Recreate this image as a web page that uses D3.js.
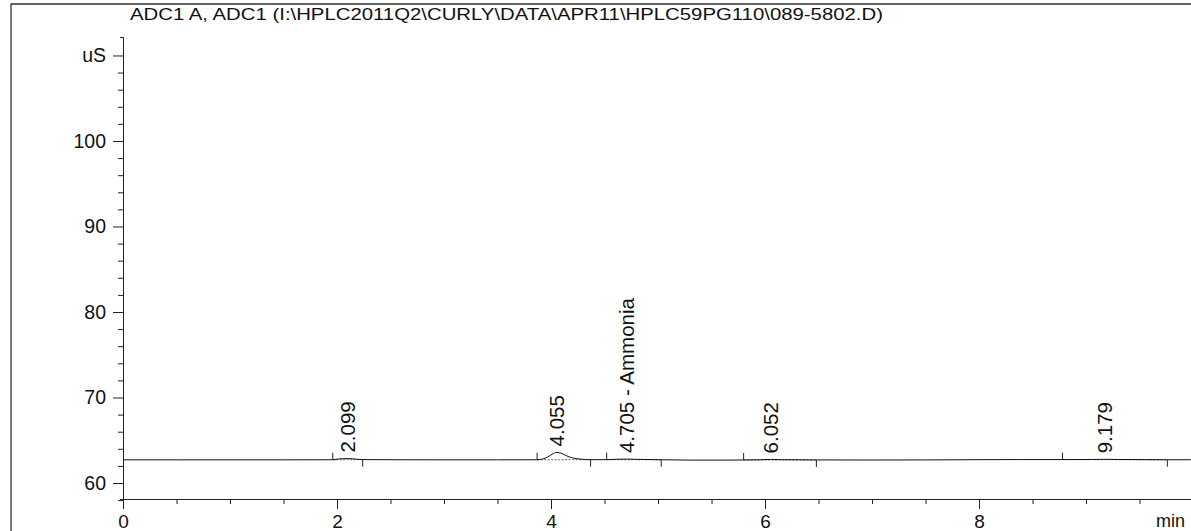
<!DOCTYPE html>
<html>
<head>
<meta charset="utf-8">
<script src="https://cdn.jsdelivr.net/npm/d3@7"></script>
<style>
  html, body { margin: 0; padding: 0; background: #fff; }
  svg { display: block; font-family: "Liberation Sans", Arial, sans-serif; }
</style>
</head>
<body>
<svg id="chart" width="1191" height="531"></svg>
<script>
// Detector trace (time in min, conductivity in uS)
const signalTime  = [0, 0.5, 1.0, 1.5, 1.96, 2.02, 2.099, 2.17, 2.24, 2.6, 3.0, 3.5, 3.87, 3.92, 3.97, 4.01, 4.055, 4.1, 4.15, 4.2, 4.27, 4.37, 4.52, 4.62, 4.705, 4.8, 5.03, 5.3, 5.6, 5.8, 5.95, 6.052, 6.15, 6.48, 7.0, 7.5, 8.0, 8.4, 8.78, 9.05, 9.179, 9.3, 9.76, 9.98];
const signalValue = [62.71, 62.71, 62.71, 62.71, 62.72, 62.82, 62.86, 62.80, 62.74, 62.72, 62.71, 62.71, 62.72, 62.80, 63.05, 63.36, 63.58, 63.46, 63.16, 62.94, 62.80, 62.73, 62.73, 62.78, 62.80, 62.77, 62.72, 62.68, 62.68, 62.69, 62.72, 62.76, 62.73, 62.70, 62.69, 62.70, 62.73, 62.74, 62.74, 62.75, 62.77, 62.75, 62.72, 62.72];

// Integrated peaks
const peakTime   = [2.099, 4.055, 4.705, 6.052, 9.179];
const peakName   = ["", "", "Ammonia", "", ""];
const peakApex   = [62.86, 63.58, 62.80, 62.76, 62.77];
const peakStart  = [1.96, 3.87, 4.52, 5.80, 8.78];
const peakEnd    = [2.24, 4.37, 5.03, 6.48, 9.76];
const peakBaseL  = [62.72, 62.72, 62.73, 62.69, 62.74];
const peakBaseR  = [62.74, 62.73, 62.72, 62.70, 62.72];

// Axis ticks
const yMajorTicks = [60, 70, 80, 90, 100, 110];
const yMinorTicks = [58, 62, 64, 66, 68, 72, 74, 76, 78, 82, 84, 86, 88, 92, 94, 96, 98, 102, 104, 106, 108];
const xMajorTicks = [0, 2, 4, 6, 8];
const xMinorTicks = [0.5, 1, 1.5, 2.5, 3, 3.5, 4.5, 5, 5.5, 6.5, 7, 7.5, 8.5, 9, 9.5];

const titleText = "ADC1 A, ADC1 (I:\\HPLC2011Q2\\CURLY\\DATA\\APR11\\HPLC59PG110\\089-5802.D)";
const yUnit = "uS";
const xUnit = "min";

const svg = d3.select("#chart");

const x = d3.scaleLinear().domain([0, 9.981]).range([123, 1191]);
const y = d3.scaleLinear().domain([58.13, 112.16]).range([499, 37]);

// Outer frame (top and left edges)
svg.append("path")
  .attr("d", "M11,531V4H1191")
  .attr("fill", "none")
  .attr("stroke", "#333")
  .attr("stroke-width", 1.3);

// Title
svg.append("text")
  .attr("x", 130).attr("y", 20)
  .attr("font-size", 17)
  .attr("textLength", 753)
  .attr("lengthAdjust", "spacingAndGlyphs")
  .attr("fill", "#111")
  .text(titleText);

// Y axis
const yAxisG = svg.append("g").attr("transform", "translate(123,0)");
yAxisG.call(d3.axisLeft(y).tickValues(yMinorTicks).tickSize(5).tickSizeOuter(3).tickFormat(""));
yAxisG.append("g").attr("class", "ymaj")
  .call(d3.axisLeft(y).tickValues(yMajorTicks).tickSize(10).tickSizeOuter(0).tickPadding(7)
  .tickFormat(d => d === 110 ? yUnit : d3.format("d")(d)))
  .call(g => g.select(".domain").remove());

// X axis
const xAxisG = svg.append("g").attr("transform", "translate(0,499)");
xAxisG.call(d3.axisBottom(x).tickValues(xMinorTicks).tickSize(5).tickSizeOuter(0).tickFormat(""));
xAxisG.append("g").attr("class", "xmaj")
  .call(d3.axisBottom(x).tickValues(xMajorTicks).tickSize(10).tickSizeOuter(0).tickPadding(6)
  .tickFormat(d3.format("d")))
  .call(g => g.select(".domain").remove());

svg.selectAll(".tick text").attr("fill", "#111")
  .attr("font-family", "'Liberation Sans', Arial, sans-serif");
svg.selectAll(".ymaj .tick text").attr("font-size", 19.5);
svg.selectAll(".xmaj .tick text").attr("font-size", 19);
svg.selectAll(".tick line, .domain").attr("stroke", "#222");

svg.append("text")
  .attr("x", 1156).attr("y", 527)
  .attr("font-size", 18).attr("fill", "#111")
  .text(xUnit);

// Integration baselines (dotted) under each peak
svg.append("g").selectAll("line")
  .data(peakTime.map((t, i) => i))
  .join("line")
  .attr("x1", i => x(peakStart[i])).attr("x2", i => x(peakEnd[i]))
  .attr("y1", i => y(peakBaseL[i])).attr("y2", i => y(peakBaseR[i]))
  .attr("stroke", "#666").attr("stroke-width", 1)
  .attr("stroke-dasharray", "2,1.5");

// Trace
const line = d3.line()
  .x(d => x(d[0])).y(d => y(d[1]))
  .curve(d3.curveMonotoneX);
svg.append("path")
  .datum(signalTime.map((t, i) => [t, signalValue[i]]))
  .attr("d", line)
  .attr("fill", "none")
  .attr("stroke", "#111")
  .attr("stroke-width", 1);

// Peak start (up) and end (down) markers
const marks = svg.append("g").attr("stroke", "#222").attr("stroke-width", 1);
marks.selectAll("line.start")
  .data(peakStart.map((t, i) => i))
  .join("line").attr("class", "start")
  .attr("x1", i => x(peakStart[i])).attr("x2", i => x(peakStart[i]))
  .attr("y1", i => y(peakBaseL[i])).attr("y2", i => y(peakBaseL[i]) - 7);
marks.selectAll("line.end")
  .data(peakEnd.map((t, i) => i))
  .join("line").attr("class", "end")
  .attr("x1", i => x(peakEnd[i])).attr("x2", i => x(peakEnd[i]))
  .attr("y1", i => y(peakBaseR[i])).attr("y2", i => y(peakBaseR[i]) + 7);

// Retention time labels
svg.append("g").selectAll("text")
  .data(peakTime.map((t, i) => i))
  .join("text")
  .attr("transform", i => `translate(${x(peakTime[i])},${y(peakApex[i]) - 6}) rotate(-90)`)
  .attr("dy", "0.35em")
  .attr("font-size", 20.5)
  .attr("fill", "#111")
  .text(i => d3.format(".3f")(peakTime[i]) + (peakName[i] ? " -  " + peakName[i] : ""));
</script>
</body>
</html>
